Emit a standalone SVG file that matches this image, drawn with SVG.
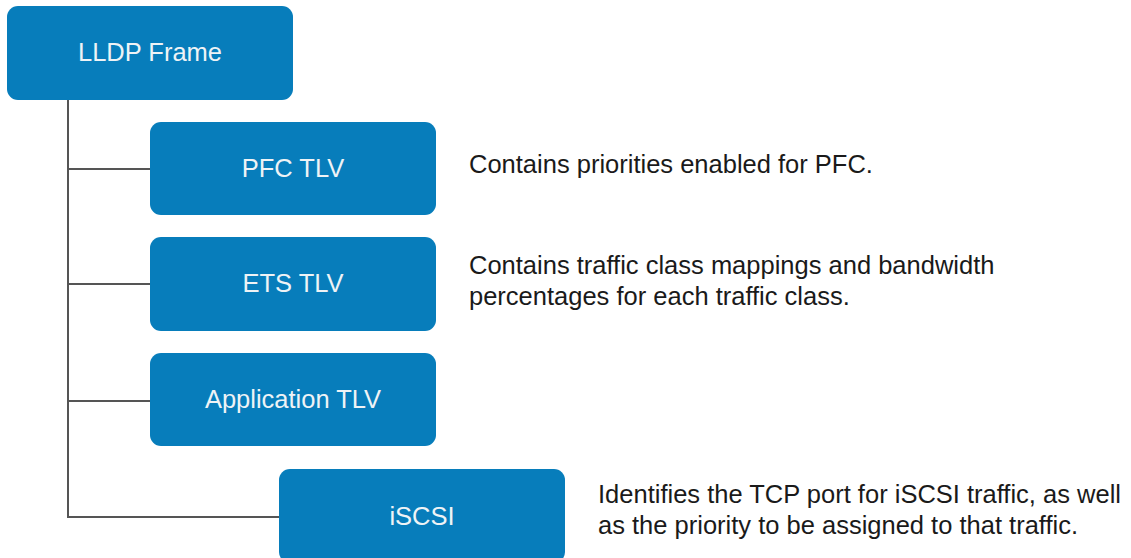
<svg xmlns="http://www.w3.org/2000/svg" width="1131" height="558" viewBox="0 0 1131 558">
<style>
.box{fill:#077dbb;}
.bt{font-family:"Liberation Sans",Arial,sans-serif;font-size:25.5px;fill:#eef3f6;text-anchor:middle;}
.dt{font-family:"Liberation Sans",Arial,sans-serif;font-size:25.5px;fill:#1a1a1a;}
.ln{stroke:#555;stroke-width:2;fill:none;}
</style>
<rect width="1131" height="558" fill="#fff"/>
<g id="connectors">
<path class="ln" d="M68 100 V517 H280"/>
<path class="ln" d="M68 169 H150"/>
<path class="ln" d="M68 284 H150"/>
<path class="ln" d="M68 401 H150"/>
</g>
<g id="lldp"><rect class="box" x="7" y="6" width="286" height="94" rx="11"/><text class="bt" x="150" y="61">LLDP Frame</text></g>
<g id="pfc"><rect class="box" x="150" y="122" width="286" height="93" rx="11"/><text class="bt" x="293" y="177">PFC TLV</text></g>
<g id="ets"><rect class="box" x="150" y="237" width="286" height="94" rx="11"/><text class="bt" x="293" y="292">ETS TLV</text></g>
<g id="app"><rect class="box" x="150" y="353" width="286" height="93" rx="11"/><text class="bt" x="293" y="408">Application TLV</text></g>
<g id="iscsi"><rect class="box" x="279" y="469" width="286" height="94" rx="11"/><text class="bt" x="422" y="525">iSCSI</text></g>
<g id="desc">
<text class="dt" x="469" y="173">Contains priorities enabled for PFC.</text>
<text class="dt" x="469" y="274">Contains traffic class mappings and bandwidth</text>
<text class="dt" x="469" y="305">percentages for each traffic class.</text>
<text class="dt" x="598" y="503">Identifies the TCP port for iSCSI traffic, as well</text>
<text class="dt" x="598" y="534">as the priority to be assigned to that traffic.</text>
</g>
</svg>
